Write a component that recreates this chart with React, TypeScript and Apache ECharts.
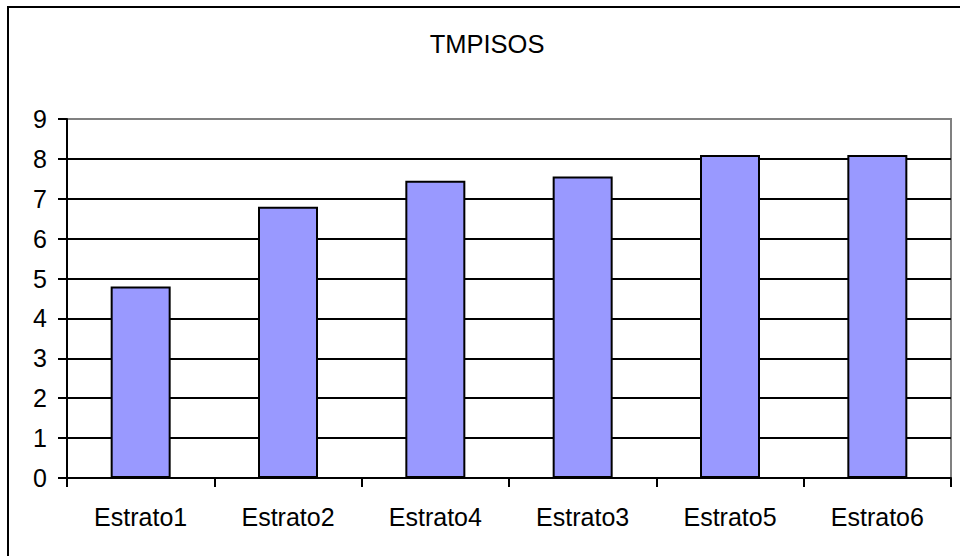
import React, { useEffect, useRef } from "react";
import * as echarts from "echarts";

const titleText = "TMPISOS";
const categories = ["Estrato1", "Estrato2", "Estrato4", "Estrato3", "Estrato5", "Estrato6"];
const values = [4.8, 6.8, 7.45, 7.56, 8.1, 8.1];
const yTicks = [0, 1, 2, 3, 4, 5, 6, 7, 8, 9];

export default function App() {
  const ref = useRef<HTMLDivElement>(null);
  useEffect(() => {
    if (!ref.current) return;
    const chart = echarts.init(ref.current, undefined, { renderer: "svg" });
    const font = "'Liberation Sans', Arial, sans-serif";
    const splitColors = yTicks.map((v) => (v === yTicks[yTicks.length - 1] ? "#808080" : "#000000"));
    chart.setOption({
      animation: false,
      backgroundColor: "#ffffff",
      title: {
        text: titleText,
        left: 482,
        top: 26,
        textAlign: "center",
        textStyle: { fontFamily: font, fontSize: 25.5, fontWeight: "normal", color: "#000" },
      },
      graphic: [
        {
          type: "rect",
          shape: { x: 8, y: 7, width: 1000, height: 1000 },
          style: { fill: "none", stroke: "#000", lineWidth: 2 },
          z: 100,
          silent: true,
        },
      ],
      grid: {
        left: 67,
        right: 9,
        top: 119,
        bottom: 78,
        show: true,
        borderColor: "#808080",
        borderWidth: 2,
        backgroundColor: "#ffffff",
      },
      xAxis: {
        type: "category",
        data: categories,
        boundaryGap: true,
        axisLine: { show: true, lineStyle: { color: "#000", width: 2 } },
        axisTick: { show: true, length: 9, alignWithLabel: false, lineStyle: { color: "#000", width: 2 } },
        axisLabel: { fontFamily: font, fontSize: 25, color: "#000", margin: 26 },
        splitLine: { show: false },
      },
      yAxis: {
        type: "value",
        min: 0,
        max: 9,
        interval: 1,
        axisLine: { show: true, lineStyle: { color: "#000", width: 2 } },
        axisTick: { show: true, length: 9, lineStyle: { color: "#000", width: 2 } },
        axisLabel: { fontFamily: font, fontSize: 25, color: "#000", margin: 20 },
        splitLine: { show: true, lineStyle: { color: splitColors, width: 2 } },
      },
      series: [
        {
          type: "bar",
          data: values,
          barWidth: 60,
          itemStyle: { color: "#9999FF", borderColor: "#000", borderWidth: 2 },
        },
      ],
    });
    return () => chart.dispose();
  }, []);
  return (
    <div
      ref={ref}
      style={{ position: "fixed", left: 0, top: 0, width: 960, height: 556 }}
    />
  );
}
